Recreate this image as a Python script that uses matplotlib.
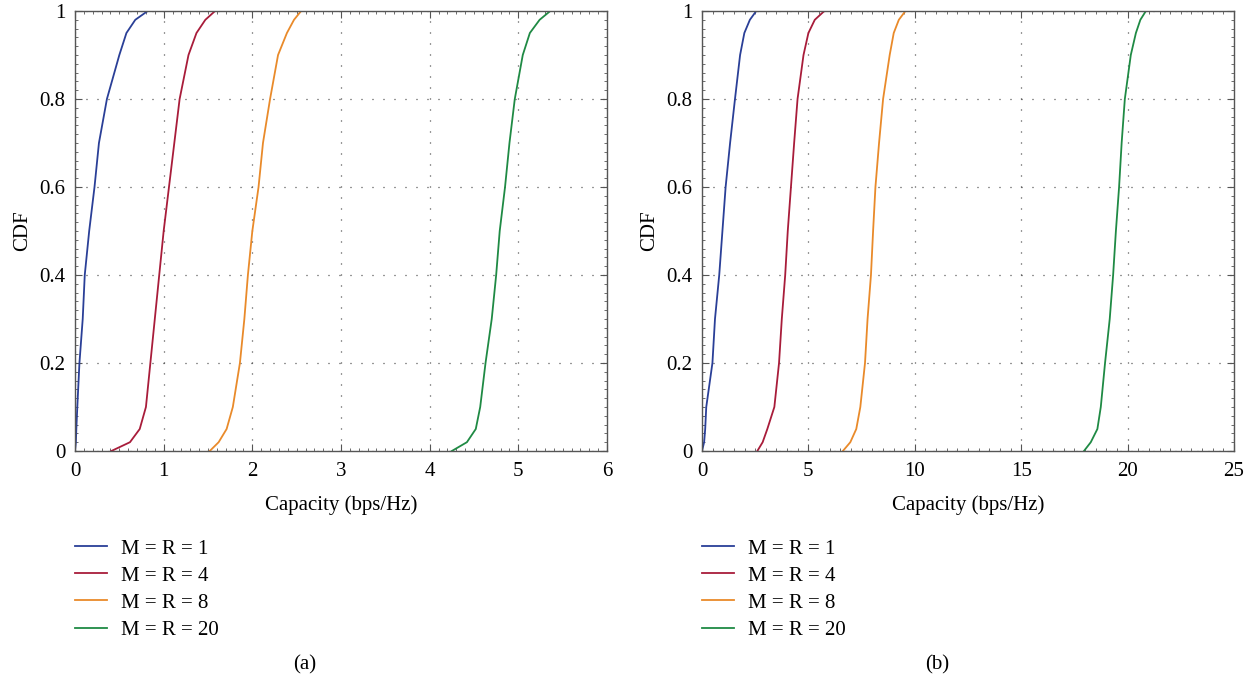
import matplotlib
matplotlib.use('Agg')
import matplotlib.pyplot as plt
from matplotlib.ticker import AutoMinorLocator, MultipleLocator

cdf_levels = [0.0, 0.02, 0.05, 0.1, 0.2, 0.3, 0.4, 0.5, 0.6, 0.7, 0.8, 0.9, 0.95, 0.98, 1.0, 1.0]

labels = ['M = R = 1', 'M = R = 4', 'M = R = 8', 'M = R = 20']
colors = ['#2a3f97', '#a81c3a', '#e98a2a', '#1f8a44']

# panel (a): capacity (bps/Hz) at each CDF level
cap_a_1 = [0.0, 0.01, 0.015, 0.026, 0.05, 0.087, 0.11, 0.16, 0.22, 0.27, 0.36, 0.50, 0.58, 0.68, 0.82, 1.08]
cap_a_4 = [0.41, 0.62, 0.73, 0.80, 0.85, 0.90, 0.95, 1.00, 1.06, 1.12, 1.18, 1.28, 1.37, 1.47, 1.58, 1.63]
cap_a_8 = [1.52, 1.62, 1.71, 1.78, 1.86, 1.91, 1.95, 2.00, 2.07, 2.12, 2.20, 2.29, 2.39, 2.47, 2.55, 2.60]
cap_a_20 = [4.25, 4.42, 4.52, 4.57, 4.63, 4.70, 4.75, 4.79, 4.85, 4.90, 4.96, 5.05, 5.13, 5.24, 5.36, 5.39]

# panel (b)
cap_b_1 = [0.0, 0.1, 0.15, 0.2, 0.49, 0.61, 0.81, 0.96, 1.11, 1.32, 1.55, 1.79, 1.99, 2.25, 2.55, 2.65]
cap_b_4 = [2.6, 2.85, 3.07, 3.40, 3.62, 3.75, 3.91, 4.03, 4.18, 4.33, 4.49, 4.77, 5.00, 5.30, 5.75, 5.87]
cap_b_8 = [6.62, 6.97, 7.25, 7.44, 7.66, 7.78, 7.94, 8.04, 8.15, 8.32, 8.51, 8.82, 9.01, 9.25, 9.56, 10.1]
cap_b_20 = [17.95, 18.27, 18.58, 18.74, 18.94, 19.16, 19.32, 19.45, 19.60, 19.72, 19.87, 20.15, 20.39, 20.60, 20.86, 21.69]

y_ticks = [0, 0.2, 0.4, 0.6, 0.8, 1.0]
y_tick_labels = ['0', '0.2', '0.4', '0.6', '0.8', '1']

panels = [
    ([cap_a_1, cap_a_4, cap_a_8, cap_a_20], 6, 1, '(a)'),
    ([cap_b_1, cap_b_4, cap_b_8, cap_b_20], 25, 5, '(b)'),
]

plt.rcParams['font.family'] = ['Liberation Serif', 'DejaVu Serif']
plt.rcParams['font.size'] = 15

fig = plt.figure(figsize=(12.56, 6.8), dpi=100)
ax_lefts = [75 / 1256, 702 / 1256]
caption_x = [305 / 1256, 937 / 1256]

for i, (curves, xmax, xstep, caption) in enumerate(panels):
    ax = fig.add_axes([ax_lefts[i], 229 / 680, 532 / 1256, 440 / 680])
    for caps, lab, col in zip(curves, labels, colors):
        ax.plot(caps, cdf_levels, color=col, lw=1.3, label=lab)

    ax.set_xlim(0, xmax)
    ax.set_ylim(0, 1)
    ax.xaxis.set_major_locator(MultipleLocator(xstep))
    ax.xaxis.set_minor_locator(AutoMinorLocator(10))
    ax.yaxis.set_minor_locator(AutoMinorLocator(10))
    ax.set_yticks(y_ticks)
    ax.set_yticklabels(y_tick_labels)
    ax.tick_params(which='both', direction='in', top=True, right=True, color='#555555')
    ax.tick_params(which='major', length=5, labelsize=15)
    ax.tick_params(axis='x', which='major', pad=8)
    ax.tick_params(axis='y', which='major', pad=7)
    ax.tick_params(which='minor', length=2.5)
    for sp in ax.spines.values():
        sp.set_color('#555555')
        sp.set_linewidth(1.0)
    ax.grid(True, which='major', color='#333333', lw=0.9, linestyle=(0, (0.8, 8)))

    ax.set_xlabel('Capacity (bps/Hz)', fontsize=15, labelpad=10)
    ax.set_ylabel('CDF', fontsize=15, labelpad=5)

    ax.legend(loc='upper left', bbox_to_anchor=(0.0, -0.2), frameon=False,
              borderpad=0, borderaxespad=0, handlelength=1.55, handletextpad=0.68,
              labelspacing=0.36, fontsize=15)

    fig.text(caption_x[i], 15 / 680, caption, ha='center', va='center', fontsize=15)

fig.savefig('out.png', dpi=100)
